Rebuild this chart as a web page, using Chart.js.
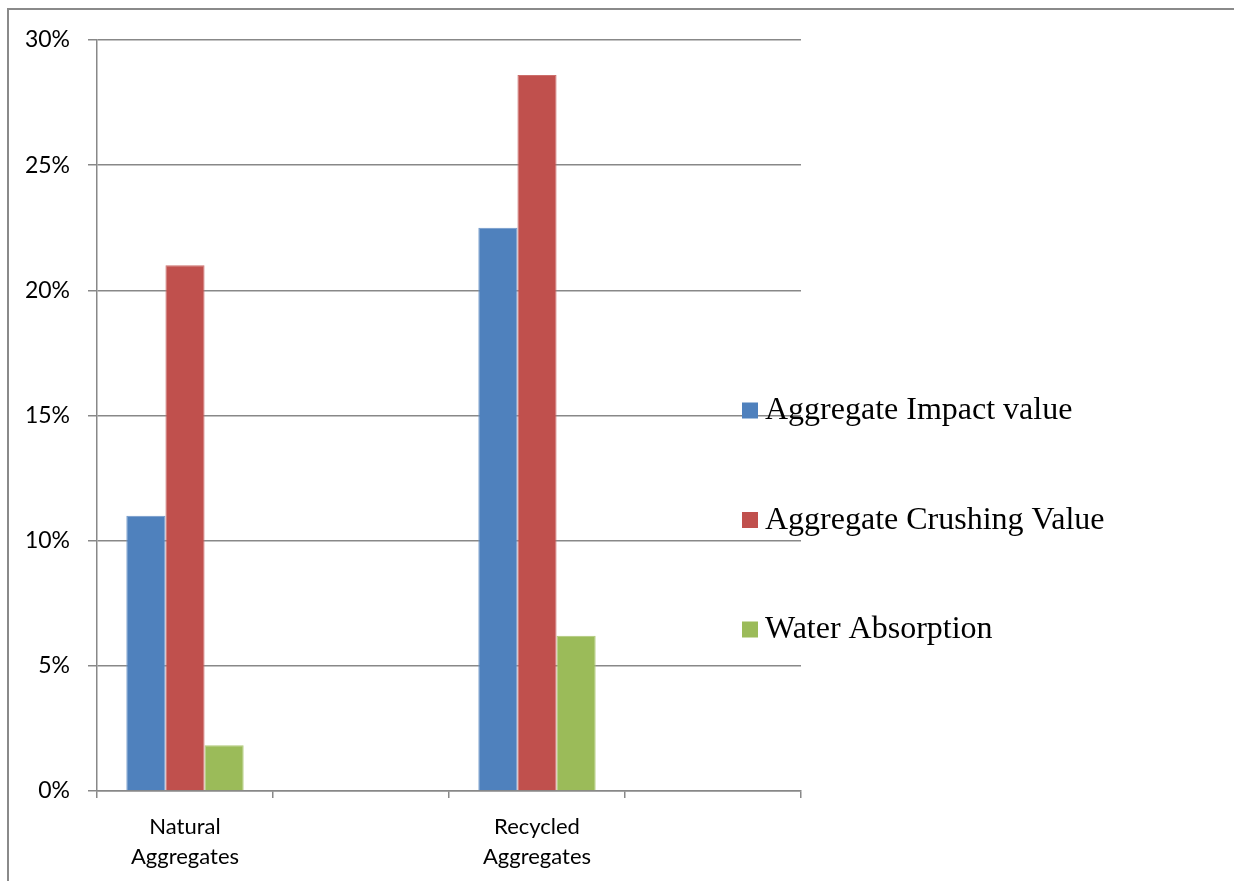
<!DOCTYPE html>
<html>
<head>
<meta charset="utf-8">
<title>Aggregate properties</title>
<script src="https://cdn.jsdelivr.net/npm/chart.js@4.4.1/dist/chart.umd.min.js"></script>
<style>
  html, body { margin: 0; padding: 0; background: #fff; overflow: hidden; }
  #frame {
    position: absolute; left: 7px; top: 8px; width: 2000px; height: 2000px;
    border-left: 2px solid #8a8a8a; border-top: 2px solid #8a8a8a;
  }
  #wrap { position: absolute; left: 0; top: 0; width: 1234px; height: 881px; }
</style>
</head>
<body>
<div id="frame"></div>
<div id="wrap"><canvas id="chart" width="1234" height="881"></canvas></div>
<script>
// Category slots along the x axis (two are left empty)
const categories = ['Natural Aggregates', '', 'Recycled Aggregates', ''];

// Series names
const seriesNames = ['Aggregate Impact value', 'Aggregate Crushing Value', 'Water Absorption'];

// Series values, in percent
const impactValue = [11, null, 22.5, null];
const crushingValue = [21, null, 28.6, null];
const waterAbsorption = [1.83, null, 6.2, null];

// Value axis range
const yMin = 0;
const yMax = 30;
const yStep = 5;

const seriesColors = ['#4F81BD', '#C0504D', '#9BBB59'];
const seriesEdges = ['#6f97c9', '#cc6e6b', '#afc878'];
const axisGray = '#888888';
const labelFont = 'Lato, "Open Sans", sans-serif';

// Legend drawn to the right of the plot, one entry per dataset
const sideLegend = {
  id: 'sideLegend',
  afterDraw(chart) {
    const ctx = chart.ctx;
    ctx.save();
    ctx.font = '32px "Liberation Serif", "Times New Roman", serif';
    ctx.textBaseline = 'alphabetic';
    ctx.textAlign = 'left';
    chart.data.datasets.forEach((ds, i) => {
      const base = 419 + i * 109.5;
      ctx.fillStyle = ds.backgroundColor;
      ctx.fillRect(742, base - 16.5, 16, 16);
      ctx.fillStyle = '#000';
      ctx.fillText(ds.label, 765, base);
    });
    ctx.restore();
  }
};

const seriesValues = [impactValue, crushingValue, waterAbsorption];

new Chart(document.getElementById('chart'), {
  type: 'bar',
  data: {
    labels: categories.map(c => (c ? c.split(' ') : '')),
    datasets: seriesValues.map((vals, i) => ({
      label: seriesNames[i],
      data: vals,
      backgroundColor: seriesColors[i],
      borderColor: seriesEdges[i],
      borderWidth: 1,
      categoryPercentage: 1 / 1.5,
      barPercentage: 1
    }))
  },
  options: {
    responsive: false,
    animation: false,
    devicePixelRatio: 1,
    layout: { padding: { top: 40, right: 433, bottom: 0, left: 0 } },
    plugins: {
      legend: { display: false },
      tooltip: { enabled: false }
    },
    scales: {
      x: {
        grid: {
          display: true,
          drawOnChartArea: false,
          drawTicks: true,
          tickLength: 7,
          color: axisGray,
          lineWidth: 1.5,
          offset: true
        },
        border: { color: axisGray, width: 1.5 },
        ticks: {
          color: '#000',
          font: { family: labelFont, size: 22, lineHeight: 1.36 },
          padding: 14,
          maxRotation: 0,
          autoSkip: false
        },
        afterFit(scale) { scale.height = 90; }
      },
      y: {
        min: yMin,
        max: yMax,
        grid: {
          color: axisGray,
          lineWidth: 1.5,
          drawTicks: true,
          tickLength: 9
        },
        border: { color: axisGray, width: 1.5 },
        ticks: {
          stepSize: yStep,
          color: '#000',
          font: { family: labelFont, size: 23 },
          padding: 18,
          callback: v => v + '%'
        },
        afterFit(scale) { scale.width = 97; }
      }
    }
  },
  plugins: [sideLegend]
});
</script>
</body>
</html>
